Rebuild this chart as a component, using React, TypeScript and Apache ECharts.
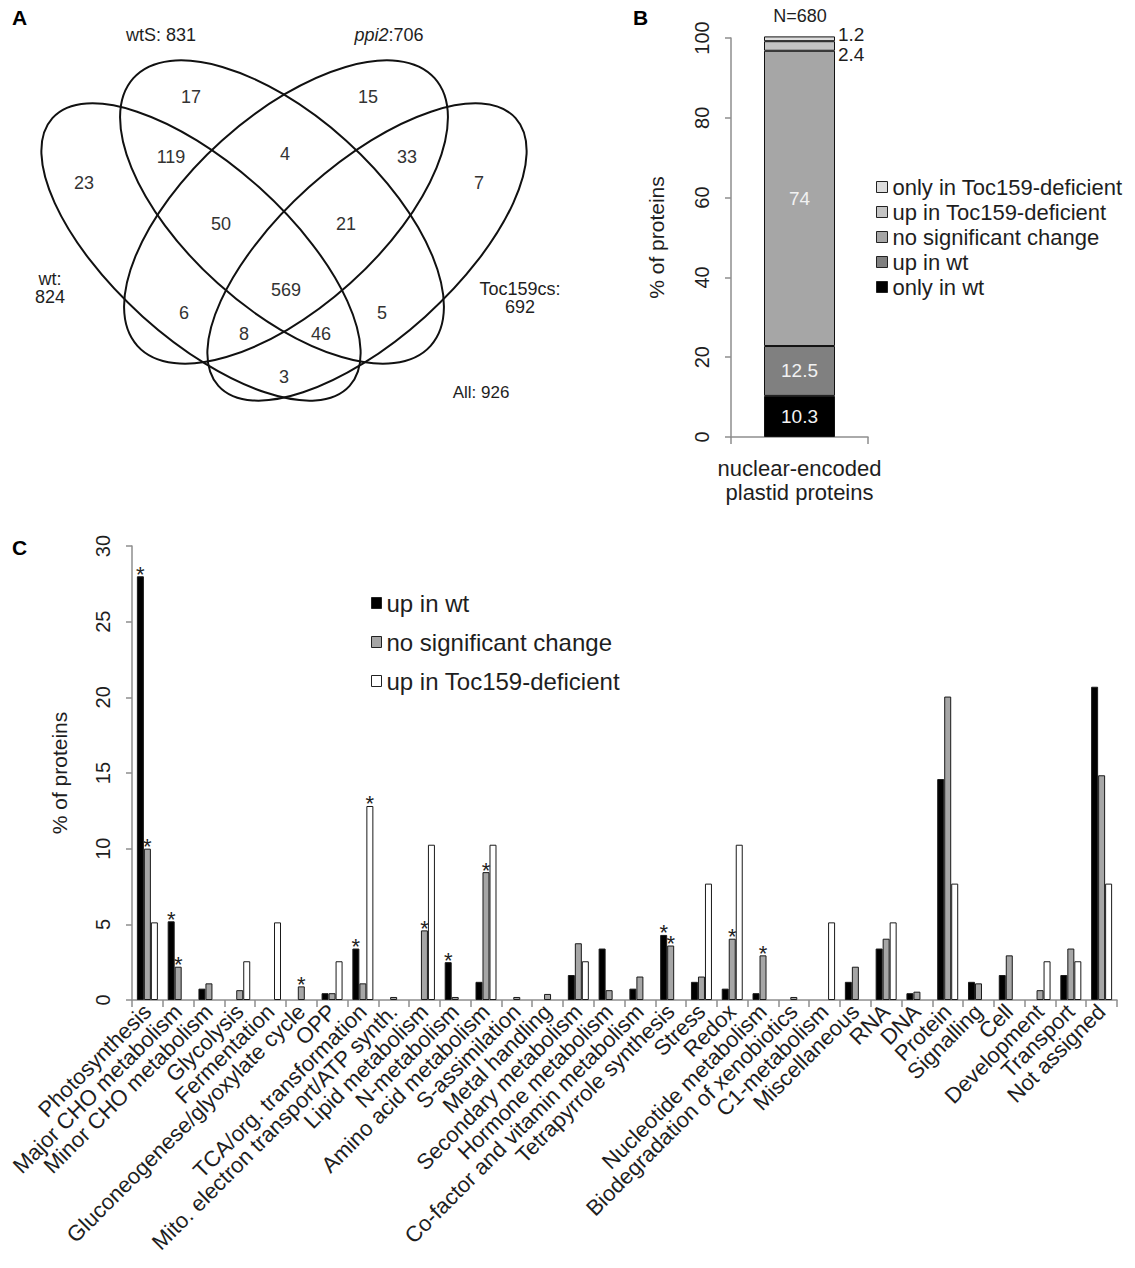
import React, { useEffect, useRef } from "react";
import * as echarts from "echarts";

const FONT = "'Liberation Sans', Arial, Helvetica, sans-serif";

// ---------- Panel A : Venn diagram ----------
const vennSetNames = ["wt", "wtS", "ppi2", "Toc159cs"];
const vennSetTotals = [824, 831, 706, 692];
const vennAllTotal = 926;
// region keys (sets contained) and their counts
const vennRegionKeys = [
  "wt", "wtS", "ppi2", "Toc159cs",
  "wt+wtS", "wtS+ppi2", "ppi2+Toc159cs",
  "wt+wtS+ppi2", "wtS+ppi2+Toc159cs", "wt+wtS+ppi2+Toc159cs",
  "wt+ppi2", "wtS+Toc159cs", "wt+ppi2+Toc159cs", "wt+wtS+Toc159cs",
  "wt+Toc159cs",
];
const vennRegionCounts = [23, 17, 15, 7, 119, 4, 33, 50, 21, 569, 6, 5, 8, 46, 3];

// ---------- Panel B : stacked bar ----------
const bCategories = ["nuclear-encoded\nplastid proteins"];
const bSeriesNames = [
  "only in wt",
  "up in wt",
  "no significant change",
  "up in Toc159-deficient",
  "only in Toc159-deficient",
];
const bOnlyWt = [10.3];
const bUpWt = [12.5];
const bNoChange = [74];
const bUpToc = [2.4];
const bOnlyToc = [1.2];
const bTotalN = 680;

// ---------- Panel C : grouped bars ----------
const cCategories = [
  "Photosynthesis",
  "Major CHO metabolism",
  "Minor CHO metabolism",
  "Glycolysis",
  "Fermentation",
  "Gluconeogenese/glyoxylate cycle",
  "OPP",
  "TCA/org. transformation",
  "Mito. electron transport/ATP synth.",
  "Lipid metabolism",
  "N-metabolism",
  "Amino acid metabolism",
  "S-assimilation",
  "Metal handling",
  "Secondary metabolism",
  "Hormone metabolism",
  "Co-factor and vitamin metabolism",
  "Tetrapyrrole synthesis",
  "Stress",
  "Redox",
  "Nucleotide metabolism",
  "Biodegradation of xenobiotics",
  "C1-metabolism",
  "Miscellaneous",
  "RNA",
  "DNA",
  "Protein",
  "Signalling",
  "Cell",
  "Development",
  "Transport",
  "Not assigned",
];
const cSeriesNames = ["up in wt", "no significant change", "up in Toc159-deficient"];
const cUpWt = [28.0, 5.2, 0.75, 0, 0, 0, 0.45, 3.4, 0, 0, 2.5, 1.2, 0, 0, 1.65, 3.4, 0.75, 4.3, 1.2, 0.75, 0.45, 0, 0, 1.2, 3.4, 0.45, 14.6, 1.2, 1.65, 0, 1.65, 20.7];
const cNoChange = [10.0, 2.2, 1.1, 0.65, 0, 0.9, 0.45, 1.1, 0.2, 4.6, 0.2, 8.45, 0.2, 0.4, 3.75, 0.65, 1.55, 3.6, 1.55, 4.05, 2.95, 0.2, 0, 2.2, 4.05, 0.55, 20.05, 1.1, 2.95, 0.65, 3.4, 14.85];
const cUpToc = [5.13, 0, 0, 2.56, 5.13, 0, 2.56, 12.82, 0, 10.26, 0, 10.26, 0, 0, 2.56, 0, 0, 0, 7.69, 10.26, 0, 0, 5.13, 0, 5.13, 0, 7.69, 0, 0, 2.56, 2.56, 7.69];
// categories marked with an asterisk (significant enrichment)
const cSigUpWt = ["Photosynthesis", "Major CHO metabolism", "TCA/org. transformation", "N-metabolism", "Tetrapyrrole synthesis"];
const cSigNoChange = ["Photosynthesis", "Major CHO metabolism", "Gluconeogenese/glyoxylate cycle", "Lipid metabolism", "Amino acid metabolism", "Tetrapyrrole synthesis", "Redox", "Nucleotide metabolism"];
const cSigUpToc = ["TCA/org. transformation"];

// ---------- layout (positions only) ----------
const TOP_H = 525;
const vennEllipses = [
  { x: 201, y: 252, rx: 200, ry: 87, deg: 42 },
  { x: 282, y: 212, rx: 200, ry: 96, deg: 42 },
  { x: 286, y: 212, rx: 200, ry: 96, deg: -42 },
  { x: 367, y: 252, rx: 200, ry: 87, deg: -42 },
];
const vennRegionPos: Record<string, [number, number]> = {
  "wt": [84, 183],
  "wtS": [191, 97],
  "ppi2": [368, 97],
  "Toc159cs": [479, 183],
  "wt+wtS": [171, 157],
  "wtS+ppi2": [285, 154],
  "ppi2+Toc159cs": [407, 157],
  "wt+wtS+ppi2": [221, 224],
  "wtS+ppi2+Toc159cs": [346, 224],
  "wt+wtS+ppi2+Toc159cs": [286, 290],
  "wt+ppi2": [184, 313],
  "wtS+Toc159cs": [382, 313],
  "wt+ppi2+Toc159cs": [244, 334],
  "wt+wtS+Toc159cs": [321, 334],
  "wt+Toc159cs": [284, 377],
};

const AXIS_GRAY = "#8e8e8e";
const TEXT = "#1e1e1e";

function txt(x: number, y: number, text: string, extra: any = {}) {
  return {
    type: "text",
    x,
    y,
    silent: true,
    style: {
      text,
      fontFamily: FONT,
      fontSize: 18,
      fill: TEXT,
      align: "center",
      textAlign: "center",
      verticalAlign: "middle",
      textVerticalAlign: "middle",
      ...extra,
    },
  };
}

function buildTopOption() {
  const graphic: any[] = [];
  vennEllipses.forEach((e) => {
    graphic.push({
      type: "ellipse",
      x: e.x,
      y: e.y,
      rotation: (-e.deg * Math.PI) / 180,
      silent: true,
      shape: { cx: 0, cy: 0, rx: e.rx, ry: e.ry },
      style: { fill: "none", stroke: "#111", lineWidth: 2 },
    });
  });
  vennRegionKeys.forEach((k, i) => {
    const p = vennRegionPos[k];
    graphic.push(txt(p[0], p[1], String(vennRegionCounts[i]), { fill: "#333" }));
  });
  graphic.push(txt(161, 35, `${vennSetNames[1]}: ${vennSetTotals[1]}`));
  graphic.push({
    type: "text",
    x: 389,
    y: 35,
    silent: true,
    style: {
      text: `{i|${vennSetNames[2]}}:${vennSetTotals[2]}`,
      fontFamily: FONT,
      fontSize: 18,
      fill: TEXT,
      align: "center",
      verticalAlign: "middle",
      rich: { i: { fontStyle: "italic", fontFamily: FONT, fontSize: 18, fill: TEXT } },
    },
  });
  graphic.push(txt(50, 288, `${vennSetNames[0]}:\n${vennSetTotals[0]}`, { lineHeight: 18 }));
  graphic.push(txt(520, 298, `${vennSetNames[3]}:\n${vennSetTotals[3]}`, { lineHeight: 18 }));
  graphic.push(txt(481, 392, `All: ${vennAllTotal}`, { fontSize: 17 }));
  graphic.push(txt(12, 17, "A", { fontSize: 21, fontWeight: "bold", align: "left", textAlign: "left", fill: "#000" }));
  graphic.push(txt(633, 17, "B", { fontSize: 21, fontWeight: "bold", align: "left", textAlign: "left", fill: "#000" }));
  graphic.push(txt(800, 16, `N=${bTotalN}`, { fontSize: 18 }));

  const bColors = ["#000000", "#808080", "#a6a6a6", "#c4c4c4", "#dddddd"];
  const bData = [bOnlyWt, bUpWt, bNoChange, bUpToc, bOnlyToc];
  const series = bSeriesNames.map((name, i) => {
    let label: any = {
      show: true,
      position: "inside",
      color: "#f2f2f2",
      fontSize: 19,
      fontFamily: FONT,
      formatter: "{c}",
    };
    if (i === 3) label = { show: true, position: "right", distance: 3, offset: [0, 9], color: TEXT, fontSize: 19, fontFamily: FONT, formatter: "{c}" };
    if (i === 4) label = { show: true, position: "right", distance: 3, offset: [0, -4], color: TEXT, fontSize: 19, fontFamily: FONT, formatter: "{c}" };
    return {
      name,
      type: "bar",
      stack: "total",
      barWidth: 71,
      clip: false,
      data: bData[i],
      itemStyle: { color: bColors[i], borderColor: "#111", borderWidth: 1 },
      label,
      emphasis: { disabled: true },
    };
  });

  return {
    animation: false,
    textStyle: { fontFamily: FONT },
    grid: { left: 731, top: 38, width: 137, height: 399, containLabel: false },
    xAxis: {
      type: "category",
      data: bCategories,
      axisLine: { lineStyle: { color: AXIS_GRAY, width: 1.5 } },
      axisTick: { show: true, length: 7, lineStyle: { color: AXIS_GRAY, width: 1.5 } },
      axisLabel: { fontSize: 22, lineHeight: 24, color: TEXT, margin: 19, fontFamily: FONT },
    },
    yAxis: {
      type: "value",
      min: 0,
      max: 100,
      interval: 20,
      axisLine: { show: true, lineStyle: { color: AXIS_GRAY, width: 1.5 } },
      axisTick: { show: true, length: 6, lineStyle: { color: AXIS_GRAY, width: 1.5 } },
      splitLine: { show: false },
      axisLabel: { rotate: 90, fontSize: 20, color: TEXT, margin: 19, fontFamily: FONT },
      name: "% of proteins",
      nameLocation: "middle",
      nameRotate: 90,
      nameGap: 64,
      nameTextStyle: { fontSize: 21, color: TEXT, fontFamily: FONT },
    },
    legend: {
      orient: "vertical",
      left: 876,
      top: 176,
      padding: 0,
      itemWidth: 11,
      itemHeight: 11,
      itemGap: 3,
      icon: "rect",
      selectedMode: false,
      data: [...bSeriesNames].reverse(),
      itemStyle: { borderColor: "#222", borderWidth: 1 },
      textStyle: { fontSize: 22, color: TEXT, lineHeight: 22, fontFamily: FONT },
    },
    series,
    graphic,
  };
}

function buildBottomOption() {
  const colors = ["#000000", "#a6a6a6", "#ffffff"];
  const data = [cUpWt, cNoChange, cUpToc];
  const sig = [cSigUpWt, cSigNoChange, cSigUpToc];
  const series = cSeriesNames.map((name, i) => ({
    name,
    type: "bar",
    barWidth: 7,
    barGap: "0%",
    data: data[i].map((v) => (v === 0 ? null : v)),
    itemStyle: { color: colors[i], borderColor: "#1a1a1a", borderWidth: 1 },
    label: {
      show: true,
      position: "top",
      distance: -9,
      fontSize: 22,
      color: "#222",
      fontFamily: FONT,
      formatter: (p: any) => (sig[i].includes(cCategories[p.dataIndex]) ? "*" : ""),
    },
    emphasis: { disabled: true },
  }));
  return {
    animation: false,
    textStyle: { fontFamily: FONT },
    grid: { left: 132, top: 546 - TOP_H, width: 985, height: 454, containLabel: false },
    xAxis: {
      type: "category",
      data: cCategories,
      axisLine: { lineStyle: { color: AXIS_GRAY, width: 1.5 } },
      axisTick: { show: true, length: 7, lineStyle: { color: AXIS_GRAY, width: 1.5 } },
      axisLabel: { rotate: 45, interval: 0, fontSize: 22, color: TEXT, margin: 8, fontFamily: FONT },
    },
    yAxis: {
      type: "value",
      min: 0,
      max: 30,
      interval: 5,
      axisLine: { show: true, lineStyle: { color: AXIS_GRAY, width: 1.5 } },
      axisTick: { show: true, length: 6, lineStyle: { color: AXIS_GRAY, width: 1.5 } },
      splitLine: { show: false },
      axisLabel: { rotate: 90, fontSize: 20, color: TEXT, margin: 19, fontFamily: FONT },
      name: "% of proteins",
      nameLocation: "middle",
      nameRotate: 90,
      nameGap: 62,
      nameTextStyle: { fontSize: 21, color: TEXT, fontFamily: FONT },
    },
    legend: {
      orient: "vertical",
      left: 371,
      top: 591 - TOP_H,
      padding: 0,
      itemWidth: 10,
      itemHeight: 11,
      itemGap: 15,
      icon: "rect",
      selectedMode: false,
      data: cSeriesNames,
      itemStyle: { borderColor: "#222", borderWidth: 1 },
      textStyle: { fontSize: 24, color: TEXT, lineHeight: 24, fontFamily: FONT },
    },
    series,
    graphic: [txt(12, 547 - TOP_H, "C", { fontSize: 21, fontWeight: "bold", align: "left", textAlign: "left", fill: "#000" })],
  };
}

export default function App() {
  const topRef = useRef<HTMLDivElement>(null);
  const botRef = useRef<HTMLDivElement>(null);
  useEffect(() => {
    document.body.style.margin = "0";
    const top = echarts.init(topRef.current!, null, { renderer: "svg" });
    const bot = echarts.init(botRef.current!, null, { renderer: "svg" });
    top.setOption(buildTopOption() as any);
    bot.setOption(buildBottomOption() as any);
    return () => {
      top.dispose();
      bot.dispose();
    };
  }, []);
  return (
    <div style={{ position: "relative", width: 1135, height: 1268, background: "#fff", overflow: "hidden" }}>
      <div ref={topRef} style={{ position: "absolute", left: 0, top: 0, width: 1135, height: TOP_H }} />
      <div ref={botRef} style={{ position: "absolute", left: 0, top: TOP_H, width: 1135, height: 1268 - TOP_H }} />
    </div>
  );
}
